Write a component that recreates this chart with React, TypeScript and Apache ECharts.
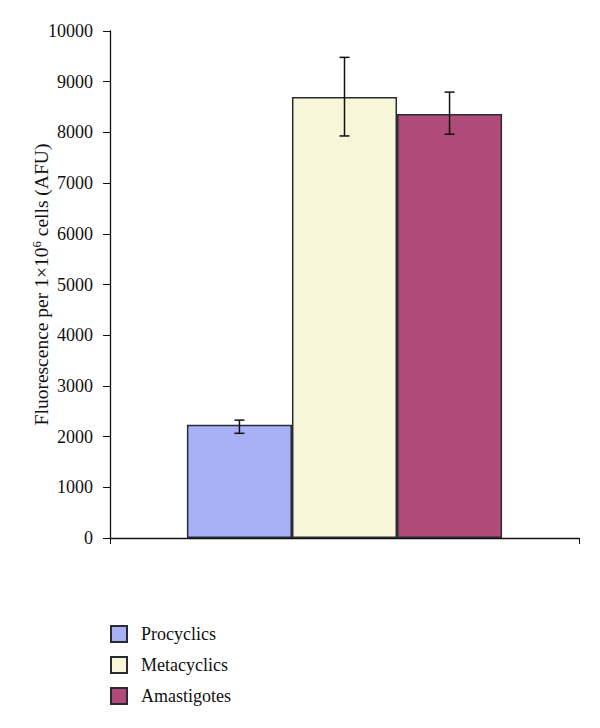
import React, { useEffect, useRef } from "react";
import * as echarts from "echarts";

const seriesNames = ["Procyclics", "Metacyclics", "Amastigotes"];
const values = [2235, 8700, 8365];
const errLow = [2065, 7930, 7965];
const errHigh = [2325, 9480, 8795];
const colors = ["#a8b0f6", "#f7f6d8", "#b04a78"];
const yTicks = { min: 0, max: 10000, interval: 1000 };

const FONT = "'Liberation Serif', 'Times New Roman', 'DejaVu Serif', serif";
const CATEGORY_GAP = 0.328;

export default function App() {
  const ref = useRef<HTMLDivElement>(null);
  useEffect(() => {
    if (!ref.current) return;
    const chart = echarts.init(ref.current, null, { renderer: "svg" });
    const barSeries = seriesNames.map((name, i) => ({
      name,
      type: "bar",
      data: [values[i]],
      barGap: "0%",
      barCategoryGap: CATEGORY_GAP * 100 + "%",
      itemStyle: { color: colors[i], borderColor: "#2a2a33", borderWidth: 1.5 },
    }));
    const errData = seriesNames.map((_, i) => [0, errLow[i], errHigh[i], i]);
    chart.setOption({
      animation: false,
      textStyle: { fontFamily: FONT },
      grid: { left: 110, right: 21, top: 31, bottom: 190 },
      legend: {
        data: seriesNames,
        orient: "vertical",
        left: 105,
        top: 620,
        itemWidth: 16,
        itemHeight: 16,
        itemGap: 13,
        icon: "rect",
        textStyle: { fontFamily: FONT, fontSize: 18, color: "#111", padding: [0, 0, 0, 9] },
      },
      xAxis: {
        type: "category",
        data: ["x"],
        axisLine: { lineStyle: { color: "#111", width: 1.3 } },
        axisTick: { show: true, length: 6, lineStyle: { color: "#111" } },
        axisLabel: { show: false },
      },
      yAxis: {
        type: "value",
        min: yTicks.min,
        max: yTicks.max,
        interval: yTicks.interval,
        splitLine: { show: false },
        axisLine: { show: true, lineStyle: { color: "#111", width: 1.3 } },
        axisTick: { show: true, length: 7, lineStyle: { color: "#111" } },
        axisLabel: {
          color: "#111",
          fontSize: 18,
          fontFamily: FONT,
          margin: 17,
          formatter: (v: number) => String(v),
        },
        name: "Fluorescence per 1×10{sup|6} cells (AFU)",
        nameLocation: "middle",
        nameGap: 57,
        nameMoveOverlap: false,
        nameTextStyle: {
          color: "#111",
          fontSize: 19.5,
          fontFamily: FONT,
          rich: {
            sup: { fontSize: 13, verticalAlign: "top", padding: [0, 0, 10, 0], fontFamily: FONT, color: "#111" },
          },
        },
      },
      series: [
        ...barSeries,
        {
          type: "custom",
          name: "err",
          data: errData,
          encode: { x: 0, y: [1, 2] },
          z: 10,
          renderItem: (params: any, api: any) => {
            const idx = api.value(3);
            const lo = api.coord([api.value(0), api.value(1)]);
            const hi = api.coord([api.value(0), api.value(2)]);
            const catW = api.size([1, 0])[0];
            const bw = (catW * (1 - CATEGORY_GAP)) / 3;
            const x = lo[0] + (idx - 1) * bw;
            const half = 5;
            const style = { stroke: "#111", lineWidth: 1.5 };
            return {
              type: "group",
              children: [
                { type: "line", shape: { x1: x, y1: lo[1], x2: x, y2: hi[1] }, style },
                { type: "line", shape: { x1: x - half, y1: lo[1], x2: x + half, y2: lo[1] }, style },
                { type: "line", shape: { x1: x - half, y1: hi[1], x2: x + half, y2: hi[1] }, style },
              ],
            };
          },
        },
      ],
    });
    return () => chart.dispose();
  }, []);
  return <div ref={ref} style={{ width: 600, height: 728, position: "absolute", left: 0, top: 0 }} />;
}
